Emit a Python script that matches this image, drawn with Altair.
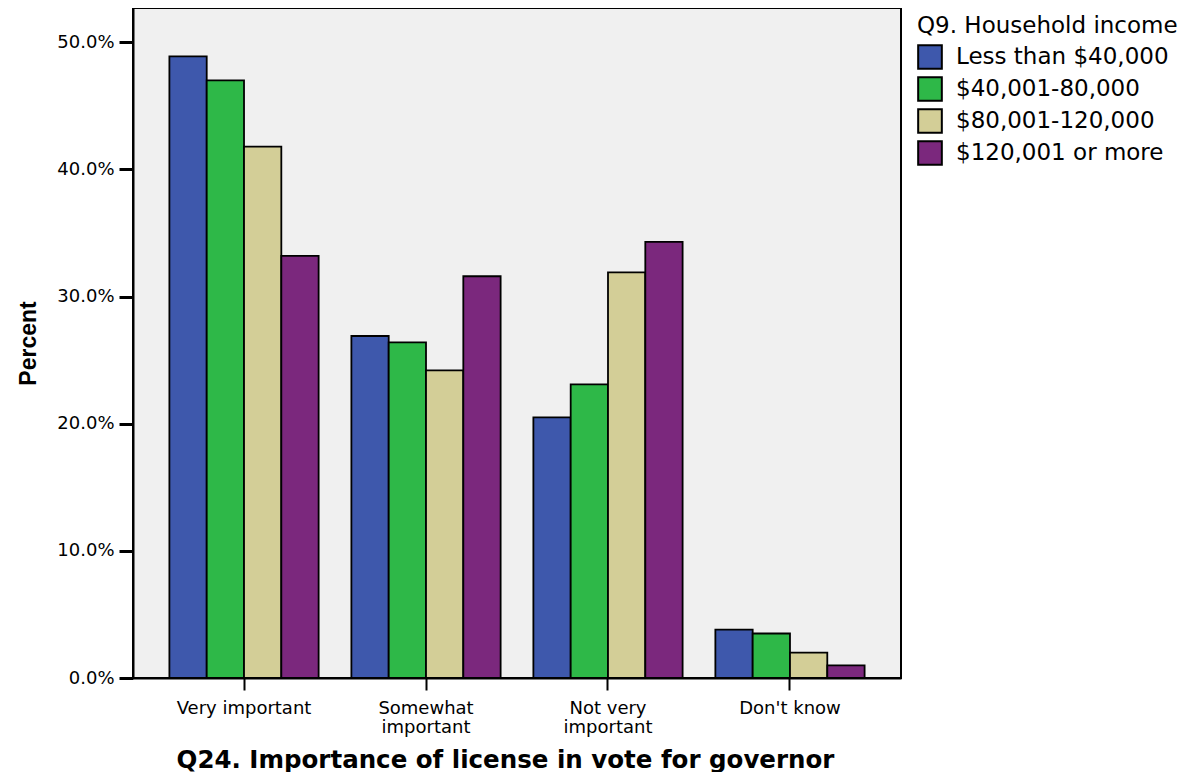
import altair as alt
import pandas as pd

categories = ["Very important", "Somewhat important", "Not very important", "Don't know"]
groups = ["Less than $40,000", "$40,001-80,000", "$80,001-120,000", "$120,001 or more"]
colors = ["#3E58AC", "#2EB848", "#D3CE97", "#7B287D"]

less_40k = [48.9, 26.9, 20.5, 3.8]
k40_80 = [47.0, 26.4, 23.1, 3.5]
k80_120 = [41.8, 24.2, 31.9, 2.0]
k120_plus = [33.2, 31.6, 34.3, 1.0]

rows = []
for g, vals in zip(groups, [less_40k, k40_80, k80_120, k120_plus]):
    for c, v in zip(categories, vals):
        rows.append({"cat": c, "grp": g, "pct": v / 100.0})
df = pd.DataFrame(rows)

label_expr = (
    "datum.value == 'Somewhat important' ? ['Somewhat', 'important'] : "
    "datum.value == 'Not very important' ? ['Not very', 'important'] : datum.value"
)

chart = alt.Chart(df).mark_bar(stroke="black", strokeWidth=1.8).encode(
    x=alt.X(
        "cat:N",
        sort=categories,
        scale=alt.Scale(paddingInner=0.18, paddingOuter=0.2),
        axis=alt.Axis(
            title="Q24. Importance of license in vote for governor",
            titleFont="DejaVu Sans",
            titleFontSize=24.5,
            titleFontWeight="bold",
            titleColor="black",
            titlePadding=12,
            titleX=372,
            titleAlign="center",
            labelFont="DejaVu Sans",
            labelFontSize=18,
            labelColor="black",
            labelAngle=0,
            labelPadding=9,
            labelLineHeight=19,
            labelExpr=label_expr,
            tickSize=12,
            tickColor="black",
            tickWidth=2,
            domainColor="black",
            domainWidth=2,
        ),
    ),
    xOffset=alt.XOffset("grp:N", sort=groups, scale=alt.Scale(paddingInner=0, paddingOuter=0)),
    y=alt.Y(
        "pct:Q",
        scale=alt.Scale(domain=[0, 0.527], nice=False),
        axis=alt.Axis(
            title="Percent",
            titleFont="Liberation Sans",
            titleFontSize=23,
            titleFontWeight="bold",
            titleColor="black",
            titlePadding=16,
            format=".1%",
            values=[0, 0.1, 0.2, 0.3, 0.4, 0.5],
            labelFont="DejaVu Sans",
            labelFontSize=18,
            labelColor="black",
            labelPadding=5,
            tickSize=14,
            tickColor="black",
            tickWidth=3,
            domainColor="black",
            domainWidth=2,
            grid=False,
        ),
    ),
    color=alt.Color(
        "grp:N",
        sort=groups,
        scale=alt.Scale(domain=groups, range=colors),
        legend=alt.Legend(
            title="Q9. Household income",
            titleFont="DejaVu Sans",
            titleFontSize=23,
            titleFontWeight="normal",
            titleColor="black",
            titleLimit=400,
            titleBaseline="top",
            labelFont="DejaVu Sans",
            labelFontSize=23,
            labelColor="black",
            labelLimit=400,
            labelOffset=13,
            symbolType="square",
            symbolSize=560,
            symbolStrokeColor="black",
            symbolStrokeWidth=2,
            symbolOpacity=1,
            rowPadding=0,
            orient="none",
            legendX=784,
            legendY=7,
            padding=0,
            titlePadding=6,
        ),
    ),
).properties(
    width=768,
    height=670,
    padding={"left": 9, "top": 0, "right": 0, "bottom": 0},
).configure(
    background="white",
).configure_view(
    fill="#F0F0F0",
    stroke="black",
    strokeWidth=2,
)

chart.save("out.html", embed_options={"renderer": "svg", "actions": False})
